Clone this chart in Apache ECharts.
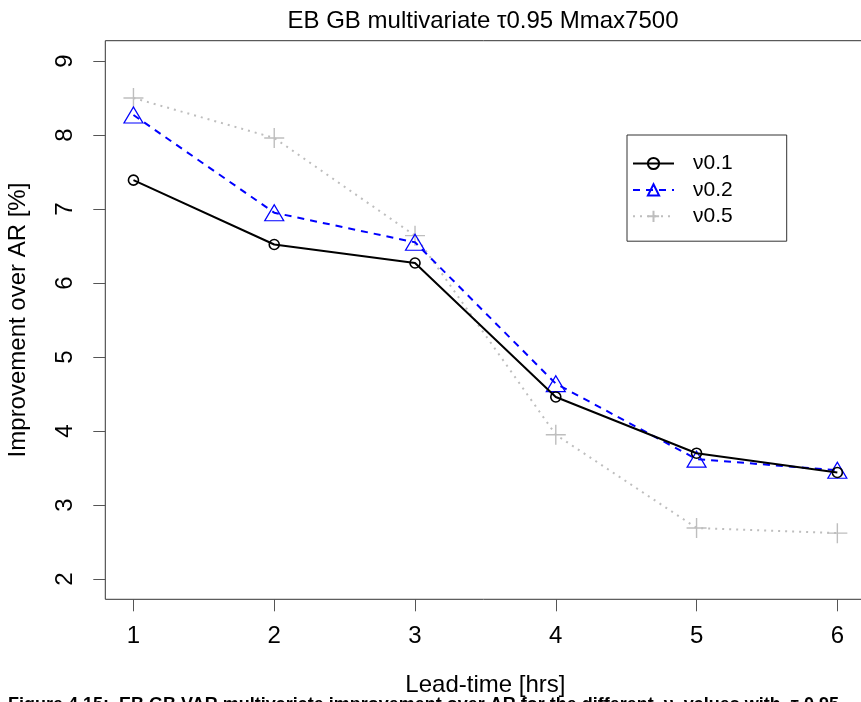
<!DOCTYPE html>
<html>
<head>
<meta charset="utf-8">
<script src="https://cdn.jsdelivr.net/npm/echarts@6/dist/echarts.min.js"></script>
<style>
html,body{margin:0;padding:0;background:#fff;overflow:hidden;}
#c{width:861px;height:702px;}
</style>
</head>
<body>
<div id="c"></div>
<script>
var leadTimes = [1, 2, 3, 4, 5, 6];
var nu01 = [7.39, 6.52, 6.27, 4.46, 3.70, 3.44];
var nu02 = [8.27, 6.95, 6.55, 4.64, 3.62, 3.47];
var nu05 = [8.50, 7.96, 6.64, 3.95, 2.69, 2.62];
var yTicks = [2, 3, 4, 5, 6, 7, 8, 9];
var xTicks = [1, 2, 3, 4, 5, 6];
var seriesNames = ['\u03BD0.1', '\u03BD0.2', '\u03BD0.5'];

function pairs(arr) { return leadTimes.map(function (x, i) { return [x, arr[i]]; }); }

var FONT = '"Liberation Sans", Arial, sans-serif';
var chart = echarts.init(document.getElementById('c'), null, {renderer: 'canvas'});
var plusPath = 'path://M10,0 L10,20 M0,10 L20,10';

chart.setOption({
  animation: false,
  backgroundColor: '#fff',
  title: {
    text: 'EB GB multivariate \u03C40.95 Mmax7500',
    left: 478, top: 4, textAlign: 'center',
    textStyle: {fontFamily: FONT, fontSize: 24, fontWeight: 'normal', color: '#000'}
  },
  grid: {
    left: 105.3, width: 760.2, top: 40.7, bottom: 102.7,
    outerBoundsMode: 'none', containLabel: false,
    show: true, borderColor: '#333', borderWidth: 1, backgroundColor: 'transparent'
  },
  legend: {
    orient: 'vertical', left: 627, top: 135,
    data: seriesNames,
    itemWidth: 41, itemHeight: 14, itemGap: 5.4,
    padding: [18, 54, 14.4, 5],
    borderColor: '#333', borderWidth: 1, backgroundColor: '#fff',
    textStyle: {fontFamily: FONT, fontSize: 21, color: '#000', padding: [0, 0, 0, 14]}
  },
  xAxis: {
    type: 'value', min: 0.8, max: 6.2,
    name: 'Lead-time [hrs]', nameLocation: 'middle', nameGap: 74,
    nameTextStyle: {fontFamily: FONT, fontSize: 24, color: '#000'},
    axisLine: {show: false},
    splitLine: {show: false},
    axisTick: {show: true, inside: false, length: 12, lineStyle: {color: '#555', width: 1}, customValues: xTicks},
    axisLabel: {fontFamily: FONT, fontSize: 24, color: '#000', margin: 25, customValues: xTicks}
  },
  yAxis: {
    type: 'value', min: 1.726, max: 9.274,
    name: 'Improvement over AR [%]', nameLocation: 'middle', nameGap: 75, nameRotate: 90,
    nameTextStyle: {fontFamily: FONT, fontSize: 24, color: '#000'},
    axisLine: {show: false},
    splitLine: {show: false},
    axisTick: {show: true, inside: false, length: 12, lineStyle: {color: '#555', width: 1}, customValues: yTicks},
    axisLabel: {fontFamily: FONT, fontSize: 24, color: '#000', margin: 28, rotate: 90, customValues: yTicks}
  },
  series: [
    {
      name: seriesNames[0], type: 'line', data: pairs(nu01), z: 4,
      symbol: 'circle', symbolSize: 10, showAllSymbol: true,
      lineStyle: {color: '#000', width: 2, type: 'solid'},
      itemStyle: {color: 'rgba(0,0,0,0)', borderColor: '#000', borderWidth: 1.6}
    },
    {
      name: seriesNames[1], type: 'line', data: pairs(nu02), z: 3,
      symbol: 'triangle', symbolSize: [19, 16], showAllSymbol: true,
      lineStyle: {color: '#0000ff', width: 2, type: [7, 6]},
      itemStyle: {color: 'rgba(0,0,0,0)', borderColor: '#0000ff', borderWidth: 1.2}
    },
    {
      name: seriesNames[2], type: 'line', data: pairs(nu05), z: 2,
      symbol: plusPath, symbolSize: 20, showAllSymbol: true,
      lineStyle: {color: '#bebebe', width: 2, type: [2, 5]},
      itemStyle: {color: 'rgba(0,0,0,0)', borderColor: '#bebebe', borderWidth: 1.4}
    }
  ],
  graphic: [
    {
      type: 'text', left: 8, top: 696, silent: true,
      style: {
        text: 'Figure 4.15:  EB GB VAR multivariate improvement over AR for the different  \u03BD  values with  \u03C4 0.95',
        fontFamily: FONT, fontSize: 18, fontWeight: 'bold', fill: '#000'
      }
    }
  ]
});
</script>
</body>
</html>
